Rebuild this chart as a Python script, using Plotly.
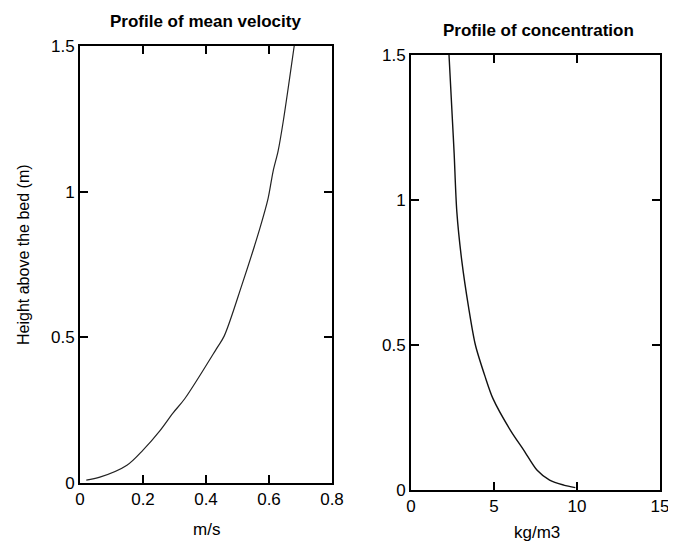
import plotly.graph_objects as go

# Profile of mean velocity
vel_u = [0.02, 0.063, 0.149, 0.20, 0.254, 0.295, 0.333, 0.435, 0.458, 0.514, 0.571, 0.597, 0.613, 0.629, 0.645, 0.68]
vel_h = [0.01, 0.02, 0.061, 0.113, 0.18, 0.24, 0.29, 0.464, 0.505, 0.68, 0.874, 0.976, 1.07, 1.14, 1.24, 1.5]

# Profile of concentration
conc_c = [9.9, 9.2, 8.35, 7.6, 6.8, 6.0, 4.94, 4.47, 3.88, 3.47, 3.06, 2.76, 2.6, 2.5, 2.29]
conc_h = [0.008, 0.017, 0.034, 0.068, 0.137, 0.205, 0.315, 0.39, 0.50, 0.63, 0.79, 0.96, 1.16, 1.27, 1.5]

vel_xticks = [0, 0.2, 0.4, 0.6, 0.8]
vel_xlabels = ["0", "0.2", "0.4", "0.6", "0.8"]
conc_xticks = [0, 5, 10, 15]
conc_xlabels = ["0", "5", "10", "15"]
h_ticks = [0, 0.5, 1, 1.5]
h_labels = ["0", "0.5", "1", "1.5"]

OFF = 8  # page body margin
W, H = 676, 543 - OFF
FONT = "Liberation Sans, Arial, sans-serif"

fig = go.Figure()
fig.add_trace(go.Scatter(x=vel_u, y=vel_h, mode="lines", line=dict(color="#222", width=1.2, shape="spline", smoothing=0.9),
                         xaxis="x", yaxis="y", showlegend=False))
fig.add_trace(go.Scatter(x=conc_c, y=conc_h, mode="lines", line=dict(color="#111", width=1.4, shape="spline", smoothing=0.8),
                         xaxis="x2", yaxis="y2", showlegend=False))

axis_common = dict(showgrid=False, zeroline=False, showline=True, linecolor="black", linewidth=2,
                   mirror="ticks", ticks="inside", ticklen=8, tickwidth=1.5, tickcolor="black",
                   tickfont=dict(family=FONT, size=17, color="black"))

def fx(p):
    return (p - OFF) / W

def fy(p):
    return 1 - (p - OFF) / H

def ann(text, x, y, size, angle=0):
    return dict(text=text, x=fx(x), y=fy(y), xref="paper", yref="paper", xanchor="center", yanchor="middle",
                showarrow=False, textangle=angle, font=dict(family=FONT, size=size, color="black"))

fig.update_layout(
    width=W, height=H,
    margin=dict(l=0, r=0, t=0, b=0, autoexpand=False),
    paper_bgcolor="white", plot_bgcolor="white",
    xaxis=dict(domain=[fx(80), fx(332)], range=[0, 0.8], tickvals=vel_xticks, ticktext=vel_xlabels,
               anchor="y", automargin=False, **axis_common),
    yaxis=dict(domain=[fy(483), fy(46)], range=[0, 1.5], tickvals=h_ticks, ticktext=h_labels,
               anchor="x", automargin=False, **axis_common),
    xaxis2=dict(domain=[fx(411), fx(660)], range=[0, 15], tickvals=conc_xticks, ticktext=conc_xlabels,
                anchor="y2", automargin=False, **axis_common),
    yaxis2=dict(domain=[fy(490), fy(55)], range=[0, 1.5], tickvals=h_ticks, ticktext=h_labels,
                anchor="x2", automargin=False, **axis_common),
    annotations=[
        ann("<b>Profile of mean velocity</b>", 205, 22, 17),
        ann("<b>Profile of concentration</b>", 538, 30, 17),
        ann("Height above the bed (m)", 23, 255, 16, -90),
        ann("m/s", 206, 529, 17),
        ann("kg/m3", 537, 532, 17),
    ],
)

fig.write_html("out.html")
